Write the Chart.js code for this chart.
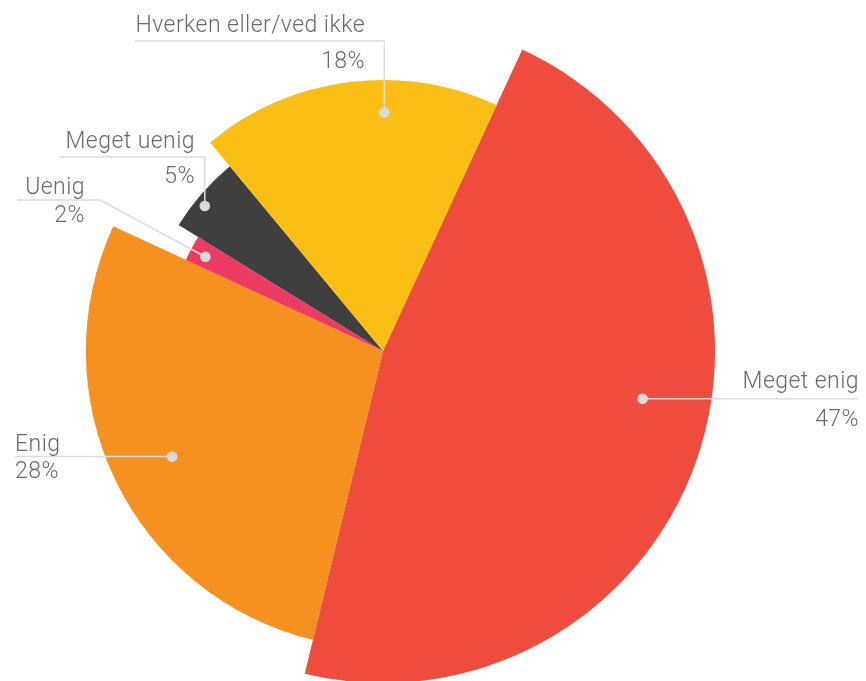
<!DOCTYPE html>
<html><head><meta charset="utf-8">
<script src="https://cdn.jsdelivr.net/npm/chart.js@4"></script>
<style>html,body{margin:0;padding:0;background:#fff;overflow:hidden}canvas{display:block}</style>
</head><body>
<canvas id="c" width="866" height="681"></canvas>
<script>
// ---- data ----
const categories = ['Meget enig', 'Enig', 'Uenig', 'Meget uenig', 'Hverken eller/ved ikke'];
const values = [46.9, 28.1, 1.9, 5.2, 17.9];
const colors = ['#EF4C3D', '#F6901F', '#EE3B63', '#3F3F3F', '#FBBE14'];

// ---- style (sizes) ----
const BASE_R = 332;
const radiusFactor = [1, 0.895, 0.654, 0.723, 0.816];
const labelLayout = [
  {t: 0.448, r: 0.795, endX: 858, align: 'right', textX: 859, above: 11, below: 27},
  {t: 0.492, r: 0.794, endX: 15, align: 'left', textX: 15, above: 6, below: 21},
  {t: 0.46, r: 0.926, elbow: [100, 200], endX: 17, align: 'right', textX: 85, above: 6, below: 22},
  {t: 0.40, r: 0.957, elbowY: 157, endX: 59, align: 'right', textX: 195, above: 9, below: 26},
  {t: 0.62, r: 0.88, elbowY: 41, endX: 135, align: 'right', textX: 365, above: 9, below: 27}
];
const FONT = '300 23px Roboto';
const LETTER_SPACING = '0.45px';

const varRadius = {
  id: 'varRadius',
  afterDatasetUpdate(chart, args) {
    args.meta.data.forEach((arc, i) => { arc.outerRadius = BASE_R * radiusFactor[i]; });
  }
};

const leaderLabels = {
  id: 'leaderLabels',
  afterDatasetsDraw(chart) {
    const ctx = chart.ctx;
    const meta = chart.getDatasetMeta(0);
    const total = values.reduce((a, b) => a + b, 0);
    meta.data.forEach((arc, i) => {
      const L = labelLayout[i];
      const a = arc.startAngle + L.t * (arc.endAngle - arc.startAngle);
      const dx = arc.x + Math.cos(a) * arc.outerRadius * L.r;
      const dy = arc.y + Math.sin(a) * arc.outerRadius * L.r;
      let pts = [[dx, dy]];
      let lineY = dy;
      if (L.elbow) { pts.push(L.elbow); lineY = L.elbow[1]; }
      else if (L.elbowY !== undefined) { pts.push([dx, L.elbowY]); lineY = L.elbowY; }
      pts.push([L.endX, lineY]);
      ctx.save();
      ctx.strokeStyle = '#DCDCDC';
      ctx.lineWidth = 1.5;
      ctx.beginPath();
      pts.forEach((p, k) => k ? ctx.lineTo(p[0], p[1]) : ctx.moveTo(p[0], p[1]));
      ctx.stroke();
      ctx.fillStyle = '#D9DADD';
      ctx.beginPath();
      ctx.arc(dx, dy, 5.3, 0, Math.PI * 2);
      ctx.fill();
      ctx.fillStyle = '#6a6a6a';
      ctx.font = FONT;
      if ('letterSpacing' in ctx) ctx.letterSpacing = LETTER_SPACING;
      ctx.textAlign = L.align;
      ctx.textBaseline = 'alphabetic';
      ctx.fillText(categories[i], L.textX, lineY - L.above);
      ctx.fillText(Math.round(values[i] / total * 100) + '%', L.textX, lineY + L.below);
      ctx.restore();
    });
  }
};

function draw() {
  new Chart(document.getElementById('c'), {
    type: 'pie',
    data: {
      labels: categories,
      datasets: [{
        data: values,
        backgroundColor: colors,
        borderWidth: 0,
        hoverOffset: 0,
        clip: false
      }]
    },
    options: {
      responsive: false,
      animation: false,
      rotation: 24.8,
      radius: BASE_R,
      layout: {padding: {left: 0, right: 100, top: 21, bottom: 0}},
      plugins: {legend: {display: false}, tooltip: {enabled: false}},
      events: []
    },
    plugins: [varRadius, leaderLabels]
  });
}
if (document.fonts && document.fonts.load) {
  document.fonts.load(FONT).then(draw, draw);
} else { draw(); }
</script>
</body></html>
